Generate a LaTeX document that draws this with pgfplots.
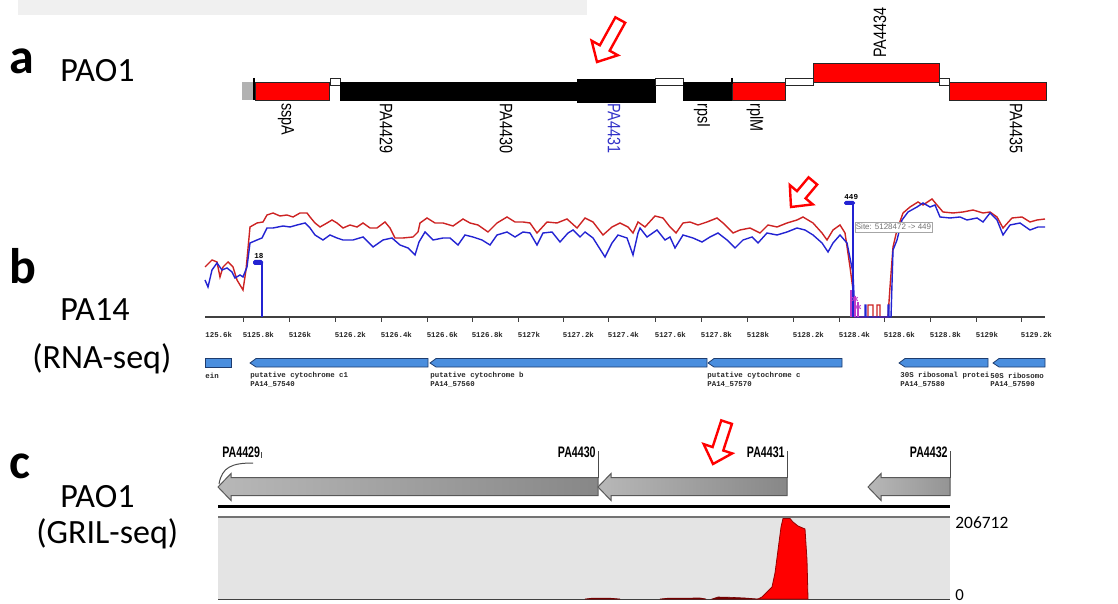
\documentclass[border=0pt]{standalone}
\usepackage{fontspec}
\setmainfont{Carlito}
\newfontfamily\arialn[FakeStretch=0.8]{Liberation Sans}
\newfontfamily\arialc[FakeStretch=0.7]{Liberation Sans}
\newfontfamily\arialf{Liberation Sans}
\newfontfamily\monof{Liberation Mono}
\usepackage{pgfplots}
\pgfplotsset{compat=1.18}
\definecolor{cvred}{RGB}{205,35,35}
\definecolor{cvblue}{RGB}{35,35,210}
\definecolor{gblue}{RGB}{74,142,222}
\definecolor{gblueline}{RGB}{30,60,110}
\definecolor{panelgray}{RGB}{228,228,228}
\definecolor{lblue}{RGB}{50,50,200}
\definecolor{purp}{RGB}{190,60,200}
\newcommand\garrow[2]{\filldraw[fill=gblue, draw=gblueline, line width=0.4pt] (axis cs:#1,363) -- (axis cs:#1+6,358.5) -- (axis cs:#2,358.5) -- (axis cs:#2,367) -- (axis cs:#1+6,367) -- cycle;}
\newcommand\glabel[2]{\node[rotate=-90, anchor=west, inner sep=0, font=\arialn\fontsize{9}{9}\selectfont] at (axis cs:#1,103) {#2};}
\begin{document}
\begin{tikzpicture}
\useasboundingbox (0,0) rectangle (559pt,302pt);
% ================= full-figure axis (pixel coordinates, y downwards)
\begin{axis}[anchor=south west, at={(0,0)}, x=0.5pt, y=0.5pt,
  xmin=0, xmax=1118, ymin=0, ymax=604, y dir=reverse, hide axis, clip=false]
% title box (cut off)
\fill[black!6] (axis cs:18,0) rectangle (axis cs:587,15);
% panel letters and names
\node[anchor=base west, inner sep=0, font=\bfseries\fontsize{25}{25}\selectfont] at (axis cs:9,74) {a};
\node[anchor=base west, inner sep=0, font=\fontsize{17}{17}\selectfont] at (axis cs:60,82) {PAO1};
\node[anchor=base west, inner sep=0, font=\bfseries\fontsize{25}{25}\selectfont] at (axis cs:9,283) {b};
\node[anchor=base west, inner sep=0, font=\fontsize{17}{17}\selectfont] at (axis cs:60,320) {PA14};
\node[anchor=base west, inner sep=0, font=\fontsize{17}{17}\selectfont] at (axis cs:32,368) {(RNA-seq)};
\node[anchor=base west, inner sep=0, font=\bfseries\fontsize{25}{25}\selectfont] at (axis cs:9,478) {c};
\node[anchor=base west, inner sep=0, font=\fontsize{17}{17}\selectfont] at (axis cs:60,507) {PAO1};
\node[anchor=base west, inner sep=0, font=\fontsize{17}{17}\selectfont] at (axis cs:36,543) {(GRIL-seq)};

% ---------- panel a: gene track
\fill[black!30] (axis cs:242,82) rectangle (axis cs:253,100);
\draw[black, line width=1pt] (axis cs:253.5,78) -- (axis cs:253.5,100);
\filldraw[fill=red, draw=black!85, line width=0.4pt] (axis cs:255,82) rectangle (axis cs:329,100);
\filldraw[fill=white, draw=black!85, line width=0.4pt] (axis cs:330,78) rectangle (axis cs:340,85);
\filldraw[fill=black, draw=black, line width=0.4pt] (axis cs:340,82) rectangle (axis cs:577,100);
\filldraw[fill=black, draw=black, line width=0.4pt] (axis cs:577,79) rectangle (axis cs:655,102);
\filldraw[fill=white, draw=black!85, line width=0.4pt] (axis cs:655,78) rectangle (axis cs:683,85);
\filldraw[fill=black, draw=black, line width=0.4pt] (axis cs:683,82) rectangle (axis cs:732,100);
\filldraw[fill=red, draw=black!85, line width=0.4pt] (axis cs:732,82) rectangle (axis cs:785,100);
\draw[black, line width=0.8pt] (axis cs:732,78) -- (axis cs:732,84);
\filldraw[fill=white, draw=black!85, line width=0.4pt] (axis cs:785,78) rectangle (axis cs:813,85);
\filldraw[fill=red, draw=black!85, line width=0.4pt] (axis cs:813,63) rectangle (axis cs:939,82);
\filldraw[fill=white, draw=black!85, line width=0.4pt] (axis cs:939,78) rectangle (axis cs:949,85);
\filldraw[fill=red, draw=black!85, line width=0.4pt] (axis cs:949,82) rectangle (axis cs:1046,100);
% gene names
\glabel{286}{sspA}
\glabel{386}{PA4429}
\glabel{506}{PA4430}
\glabel{702}{rpsI}
\glabel{755}{rplM}
\glabel{1016}{PA4435}
\node[rotate=-90, anchor=west, inner sep=0, text=lblue, font=\arialn\fontsize{9}{9}\selectfont] at (axis cs:614,103) {PA4431};
\node[rotate=90, anchor=west, inner sep=0, font=\arialn\fontsize{9}{9}\selectfont] at (axis cs:880,58) {PA4434};
\coordinate (arA) at (axis cs:597,62);
\coordinate (arB) at (axis cs:791,207);
\coordinate (arC) at (axis cs:713,464);

% ---------- panel b: gene track below the coverage
\filldraw[fill=gblue, draw=gblueline, line width=0.4pt] (axis cs:205,358.5) rectangle (axis cs:231,367);
\garrow{250}{428}
\garrow{430}{707}
\garrow{708}{842}
\garrow{899}{988}
\garrow{993}{1045}
\node[anchor=west, inner sep=0, font=\monof\bfseries\fontsize{3.7}{4}\selectfont, text=black!85] at (axis cs:205,376) {ein};
\node[anchor=west, inner sep=0, font=\monof\bfseries\fontsize{3.7}{4}\selectfont, text=black!85] at (axis cs:250,376) {putative cytochrome c1};
\node[anchor=west, inner sep=0, font=\monof\bfseries\fontsize{3.7}{4}\selectfont, text=black!85] at (axis cs:250,384) {PA14\_57540};
\node[anchor=west, inner sep=0, font=\monof\bfseries\fontsize{3.7}{4}\selectfont, text=black!85] at (axis cs:430,376) {putative cytochrome b};
\node[anchor=west, inner sep=0, font=\monof\bfseries\fontsize{3.7}{4}\selectfont, text=black!85] at (axis cs:430,384) {PA14\_57560};
\node[anchor=west, inner sep=0, font=\monof\bfseries\fontsize{3.7}{4}\selectfont, text=black!85] at (axis cs:707,376) {putative cytochrome c};
\node[anchor=west, inner sep=0, font=\monof\bfseries\fontsize{3.7}{4}\selectfont, text=black!85] at (axis cs:707,384) {PA14\_57570};
\node[anchor=west, inner sep=0, font=\monof\bfseries\fontsize{3.7}{4}\selectfont, text=black!85] at (axis cs:900,376) {30S ribosomal protei};
\node[anchor=west, inner sep=0, font=\monof\bfseries\fontsize{3.7}{4}\selectfont, text=black!85] at (axis cs:900,384) {PA14\_57580};
\node[anchor=west, inner sep=0, font=\monof\bfseries\fontsize{3.7}{4}\selectfont, text=black!85] at (axis cs:990,376) {50S ribosomo};
\node[anchor=west, inner sep=0, font=\monof\bfseries\fontsize{3.7}{4}\selectfont, text=black!85] at (axis cs:990,384) {PA14\_57590};
\node[anchor=west, inner sep=0, font=\monof\bfseries\fontsize{3.7}{4}\selectfont, text=black!85] at (axis cs:205,335) {125.6k};

% ---------- panel c
% gene arrows
\draw[left color=black!28, right color=black!47, draw=black!65, line width=0.5pt]
  (axis cs:218,487) -- (axis cs:231,473.5) -- (axis cs:231,477.5) -- (axis cs:598,477.5) -- (axis cs:598,495.5) -- (axis cs:231,495.5) -- (axis cs:231,500.5) -- cycle;
\draw[left color=black!28, right color=black!47, draw=black!65, line width=0.5pt]
  (axis cs:598,487) -- (axis cs:611,473.5) -- (axis cs:611,477.5) -- (axis cs:787,477.5) -- (axis cs:787,495.5) -- (axis cs:611,495.5) -- (axis cs:611,500.5) -- cycle;
\draw[left color=black!28, right color=black!42, draw=black!65, line width=0.5pt]
  (axis cs:868,487) -- (axis cs:881,473.5) -- (axis cs:881,477.5) -- (axis cs:950,477.5) -- (axis cs:950,495.5) -- (axis cs:881,495.5) -- (axis cs:881,500.5) -- cycle;
% leader lines and names
\draw[black!70, line width=0.4pt] (axis cs:598,451) -- (axis cs:598,478);
\draw[black!70, line width=0.4pt] (axis cs:787,451) -- (axis cs:787,478);
\draw[black!70, line width=0.4pt] (axis cs:950,451) -- (axis cs:950,478);
\draw[black!70, line width=0.4pt] (axis cs:261,452) -- (axis cs:261,458);
\draw[black!70, line width=0.5pt] (axis cs:253,463) .. controls (axis cs:232,463) and (axis cs:222,467) .. (axis cs:219,484);
\node[anchor=base west, inner sep=0, font=\arialc\bfseries\fontsize{7.6}{8}\selectfont] at (axis cs:222,457) {PA4429};
\node[anchor=base east, inner sep=0, font=\arialc\bfseries\fontsize{7.6}{8}\selectfont] at (axis cs:596,457) {PA4430};
\node[anchor=base east, inner sep=0, font=\arialc\bfseries\fontsize{7.6}{8}\selectfont] at (axis cs:785,457) {PA4431};
\node[anchor=base east, inner sep=0, font=\arialc\bfseries\fontsize{7.6}{8}\selectfont] at (axis cs:948,457) {PA4432};
% thick separator line
\draw[black, line width=1.5pt] (axis cs:218,506.5) -- (axis cs:950,506.5);
% read-coverage panel
\fill[panelgray] (axis cs:218,517) rectangle (axis cs:950,599);
\draw[black!55, line width=0.6pt] (axis cs:218,517) -- (axis cs:950,517);
\draw[black!75, line width=0.6pt] (axis cs:218,599.5) -- (axis cs:950,599.5);
% small background signal
\addplot[fill=red!45!black, draw=red!45!black, line width=0.3pt] coordinates {(585,599)(592,598.2)(610,598.2)(620,599)} -- cycle;
\addplot[fill=red!45!black, draw=red!45!black, line width=0.3pt] coordinates {(660,599)(668,598.2)(700,598)(706,599)} -- cycle;
\addplot[fill=red!45!black, draw=red!45!black, line width=0.3pt] coordinates {(712,599)(718,597)(730,597.3)(745,598)(758,599)} -- cycle;
% main GRIL-seq peak
\addplot[fill=red, draw=red!60!black, line width=0.4pt] coordinates {
 (758,599)(762,597)(767,592)(772,587)(775,573)(778,550)(781,527)(783,518.5)(790,518.5)(793,522)(798,526)(805,529)(807,560)(808,599)} -- cycle;
\node[anchor=west, inner sep=0, font=\fontsize{8.7}{9}\selectfont] at (axis cs:955,522.5) {206712};
\node[anchor=west, inner sep=0, font=\fontsize{8.4}{9}\selectfont] at (axis cs:955,595.5) {0};
\end{axis}

% ================= panel b: RNA-seq coverage
\begin{axis}[anchor=south west, at={(102.5pt,143.5pt)}, x=0.5pt, y=0.5pt,
  xmin=205, xmax=1045, ymin=0, ymax=132, y filter/.expression={317-y},
  axis x line*=bottom, axis y line=none, clip=false,
  axis line style={black!75, line width=0.7pt},
  tick align=outside, major tick length=2.5pt, ytick=\empty,
  xtick style={black!75, line width=0.5pt},
  xtick={243,289,335,381,427,472,518,563,608,655,701,747,793,839,884,930,976,1021},
  xticklabels={5125.8k,5126k,5126.2k,5126.4k,5126.6k,5126.8k,5127k,5127.2k,5127.4k,5127.6k,5127.8k,5128k,5128.2k,5128.4k,5128.6k,5128.8k,5129k,5129.2k},
  xticklabel style={anchor=north west, inner sep=0pt, yshift=-5pt, xshift=-0.3pt, text=black!85, font=\monof\bfseries\fontsize{3.7}{4}\selectfont}]
% red coverage
\addplot[cvred, line width=0.7pt] coordinates {
(205,267)(212,260)(217,262)(220,277)(223,267)(228,262)(233,267)(237,280)(240,285)(243,290)(246,270)(250,227)(257,223)(263,222)(267,215)(273,213)(280,216)(287,215)(293,217)(300,213)(307,213)(310,217)(315,223)(320,227)(327,223)(332,220)(337,223)(343,228)(350,225)(357,227)(363,223)(370,228)(377,228)(385,222)(390,228)(395,238)(403,238)(413,237)(418,232)(420,223)(427,218)(435,223)(443,223)(453,226)(463,219)(470,223)(478,225)(488,232)(497,223)(507,217)(515,222)(523,222)(530,223)(537,233)(547,222)(557,223)(567,219)(577,228)(585,218)(593,222)(603,235)(612,227)(620,223)(628,227)(633,233)(638,222)(645,227)(655,216)(663,218)(670,227)(676,233)(683,223)(690,222)(698,225)(707,222)(717,218)(723,223)(733,233)(740,230)(750,228)(760,233)(768,225)(777,227)(787,223)(797,220)(803,217)(813,223)(822,233)(827,240)(833,230)(840,225)(845,233)(850,267)(853,290)(855,317)(868,317)(868,305)(873,305)(873,317)(877,317)(877,305)(880,305)(880,317)(888,317)(890,287)(893,247)(897,230)(903,213)(910,207)(918,202)(923,205)(932,199)(937,205)(943,212)(953,213)(963,212)(973,210)(983,213)(990,212)(997,217)(1003,228)(1012,218)(1022,217)(1030,222)(1037,220)(1045,219)};
% blue coverage
\addplot[cvblue, line width=0.7pt] coordinates {
(205,280)(208,287)(212,270)(217,263)(222,270)(227,268)(232,272)(235,278)(240,275)(243,277)(247,267)(250,243)(257,240)(262,238)(267,228)(273,228)(283,226)(290,227)(297,225)(305,223)(310,228)(315,235)(323,240)(330,235)(337,238)(343,240)(353,240)(363,237)(373,247)(383,240)(392,238)(400,245)(408,248)(415,255)(419,242)(425,232)(433,240)(443,238)(450,238)(458,245)(465,235)(473,237)(482,240)(490,245)(497,235)(507,232)(515,237)(523,232)(530,233)(537,245)(543,233)(552,232)(560,242)(568,233)(573,230)(580,237)(585,232)(593,238)(605,257)(612,243)(618,235)(627,238)(633,255)(638,233)(640,228)(647,237)(657,230)(665,240)(670,237)(675,248)(683,235)(693,238)(702,242)(710,237)(718,233)(727,240)(735,248)(743,240)(752,237)(758,243)(767,233)(777,235)(787,232)(797,228)(805,230)(813,235)(822,243)(828,252)(833,243)(840,235)(847,243)(853,273)(855,317)(865,317)(865,305)(866,305)(866,317)(888,317)(888,305)(889,305)(889,317)(891,317)(893,250)(897,240)(902,220)(908,212)(917,207)(923,203)(930,207)(935,205)(940,217)(950,218)(960,217)(967,220)(977,218)(983,222)(990,213)(997,220)(1003,235)(1010,225)(1020,223)(1030,230)(1038,227)(1045,227)};
% purple start-site marks
\addplot[purp, line width=0.7pt] coordinates {(851,317)(851,290)};
\addplot[purp, line width=0.7pt] coordinates {(855,317)(855,296)};
\addplot[purp, line width=0.7pt] coordinates {(858,317)(858,302)};
\addplot[purp, only marks, mark=asterisk, mark size=1.6pt, line width=0.5pt] coordinates {(855,299)(858,307)};
% site spikes
\addplot[cvblue, line width=1.3pt] coordinates {(262,317)(262,262)};
\addplot[cvblue, line width=1.3pt] coordinates {(853,317)(853,202)};
\fill[cvblue, rounded corners=0.8pt] (axis cs:253,52) rectangle (axis cs:263,57);
\fill[cvblue, rounded corners=0.8pt] (axis cs:844,112) rectangle (axis cs:855,116);
\node[anchor=south west, inner sep=0, font=\monof\bfseries\fontsize{3.8}{4}\selectfont] at (axis cs:254,58) {18};
\node[anchor=south west, inner sep=0, font=\monof\bfseries\fontsize{3.8}{4}\selectfont] at (axis cs:844,117.5) {449};
% tooltip
\filldraw[fill=white, draw=black!35, line width=0.4pt] (axis cs:855,85) rectangle (axis cs:932,95);
\node[inner sep=0, font=\arialf\fontsize{4}{4}\selectfont, text=black!55] at (axis cs:893.5,90) {Site: 5128472 -> 449};
\end{axis}

% ================= red hollow arrows
\draw[red, line width=1.2pt, fill=white, shift={(arA)}, rotate=241]
    (0,0) -- (-8pt,7.5pt) -- (-8pt,2.8pt) -- (-24pt,2.8pt) -- (-24pt,-2.8pt) -- (-8pt,-2.8pt) -- (-8pt,-7.5pt) -- cycle;
\draw[red, line width=1.2pt, fill=white, shift={(arB)}, rotate=230]
    (0,0) -- (-8pt,7.5pt) -- (-8pt,2.8pt) -- (-17pt,2.8pt) -- (-17pt,-2.8pt) -- (-8pt,-2.8pt) -- (-8pt,-7.5pt) -- cycle;
\draw[red, line width=1.2pt, fill=white, shift={(arC)}, rotate=252]
    (0,0) -- (-8pt,7.5pt) -- (-8pt,2.8pt) -- (-22pt,2.8pt) -- (-22pt,-2.8pt) -- (-8pt,-2.8pt) -- (-8pt,-7.5pt) -- cycle;
\end{tikzpicture}
\end{document}
